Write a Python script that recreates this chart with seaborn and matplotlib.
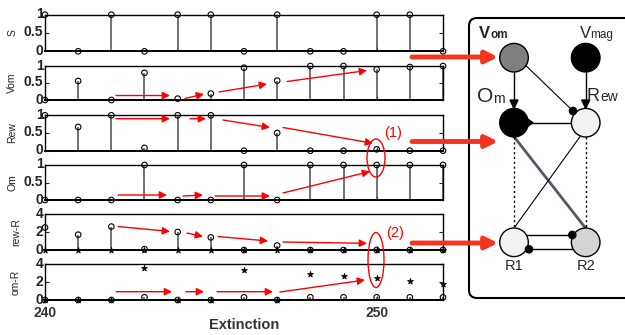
import numpy as np
import matplotlib
matplotlib.use("Agg")
import matplotlib.pyplot as plt
import seaborn as sns
from matplotlib.patches import Circle, Ellipse, FancyBboxPatch, Polygon

sns.set_style("ticks")
plt.rcParams['font.family'] = ['Liberation Sans', 'DejaVu Sans']

ext = list(range(240, 253))
s_vals = [1, 0, 1, 0, 1, 1, 0, 1, 0, 0, 1, 1, 0]
vom_vals = [0, 0.56, 0, 0.8, 0.04, 0.19, 0.95, 0.57, 1.0, 1.0, 0.9, 0.97, 1.0]
rew_vals = [1, 0.67, 1, 0.08, 1, 1, 0, 0.5, 0, 0, 0.04, 0, 0]
om_vals = [0, 0, 0, 1, 0, 0, 1, 0, 1, 1, 1, 1, 1]
rewR_circ = [2.5, 1.7, 2.6, 0.1, 2.0, 1.4, 0, 0.5, 0, 0, 0, 0, 0]
rewR_star = [0, 0, 0, 0, 0, 0, 0, 0, 0, 0, 0, 0, 0]
omR_circ = [0, 0, 0, 0.3, 0, 0, 0.3, 0, 0.3, 0.3, 0.3, 0.3, 0.3]
omR_star = [0, 0, 0, 3.6, 0, 0, 3.3, 0, 2.9, 2.7, 2.5, 2.1, 1.8]

panel_names = ['S', 'Vom', 'Rew', 'Om', 'rew-R', 'om-R']
panel_circ = [s_vals, vom_vals, rew_vals, om_vals, rewR_circ, omR_circ]
panel_star = [None, None, None, None, rewR_star, omR_star]
panel_top = [1, 1, 1, 1, 4, 4]
panel_ticklabels = [['0', '0.5', '1']] * 4 + [['0', '2', '4']] * 2
x_ticks = [240, 250]

W, H = 625, 335
fig = plt.figure(figsize=(6.25, 3.35), dpi=100)

# overlay in pixel coordinates for diagram, annotations and labels
ov = fig.add_axes([0, 0, 1, 1], zorder=10)
ov.set_xlim(0, W)
ov.set_ylim(H, 0)
ov.axis('off')

# panel positions in pixels (top, bottom)
rows = [(14.7, 51.3), (66, 100), (115.3, 150.7), (165, 200), (214, 250), (264, 300)]
label_x = [12.7, 12, 12, 12, 16, 16]
x0, x1 = 45, 443

axes = []
for i, (t, b) in enumerate(rows):
    ax = fig.add_axes([x0 / W, 1 - b / H, (x1 - x0) / W, (b - t) / H])
    top = panel_top[i]
    y = panel_circ[i]
    ax.vlines(ext, 0, y, color='#4a4a4a', lw=1.1, zorder=2)
    sns.scatterplot(x=ext, y=y, ax=ax, marker='o', s=16, facecolor='none',
                    edgecolor='black', linewidth=0.8, clip_on=False, zorder=4)
    if panel_star[i] is not None:
        sns.scatterplot(x=ext, y=panel_star[i], ax=ax, marker='*', s=20,
                        color='black', edgecolor='black', linewidth=0.5,
                        clip_on=False, zorder=5)
    ax.set_xlim(240, 252)
    ax.set_ylim(0, top)
    ticks = [0, top / 2, top]
    ax.set_xticks(x_ticks)
    ax.set_yticks(ticks)
    ax.set_xticklabels([])
    ax.set_yticklabels([])
    ax.tick_params(direction='in', right=True, length=3, width=0.8, pad=1)
    for sp in ax.spines.values():
        sp.set_linewidth(1.0)
        sp.set_color('black')
    ax.spines['bottom'].set_linewidth(1.4)
    ax.set_ylabel('')
    ax.set_xlabel('')
    ax.set_facecolor('none')
    # tick labels, placed by the panel's own data scale
    for v, lab in zip(ticks, panel_ticklabels[i]):
        py = b - (b - t) * v / top
        ov.text(x0 - 1.5, py - 0.5, lab, ha='right', va='center', fontsize=10,
                fontweight='bold', color='#222222')
    ov.text(label_x[i], (t + b) / 2, panel_names[i], rotation=90,
            fontsize=7.5, color='#222222', ha='center', va='center')
    axes.append(ax)

for v in x_ticks:
    px = x0 + (x1 - x0) * (v - 240) / 12
    ov.text(px, 306, str(v), ha='center', va='top', fontsize=10,
            fontweight='bold', color='#333333')

ov.text(244, 325, 'Extinction', fontsize=10.5, fontweight='bold',
        color='#333333', ha='center', va='center')

red = '#ff0000'


def small_arrow(p, q):
    ov.annotate('', xy=q, xytext=p,
                arrowprops=dict(arrowstyle='-|>', color=red, lw=1.0,
                                mutation_scale=11, shrinkA=0, shrinkB=0))


small_arrows = [
    ((116, 95.5), (170, 95.5)), ((185, 98.5), (204, 94)), ((219, 92), (267, 84)),
    ((287, 81.5), (367, 70.5)),
    ((116, 118.7), (170, 118.7)), ((190, 118.7), (206, 118.7)), ((223, 120), (270, 127.5)),
    ((283, 127.5), (373, 143.3)),
    ((118, 195), (167, 195)), ((183, 196), (203, 195)), ((215, 196), (270, 196)),
    ((283, 193), (370, 171.5)),
    ((118, 226.5), (170, 231.5)), ((187, 233), (203, 236.5)), ((218, 236.5), (268, 241)),
    ((283, 242), (367, 243.3)),
    ((116, 291.7), (172, 291.7)), ((186, 291.7), (204, 291.7)), ((217, 291.7), (273, 291.7)),
    ((280, 292), (365, 280)),
]
for p, q in small_arrows:
    small_arrow(p, q)

ov.add_patch(Ellipse((376, 158), 18, 38, fill=False, ec=red, lw=1.0))
ov.add_patch(Ellipse((376, 260), 16, 55, fill=False, ec=red, lw=1.0))
ov.text(393, 133, '(1)', color=red, fontsize=10.5, ha='center', va='center')
ov.text(395, 233, '(2)', color=red, fontsize=10.5, ha='center', va='center')

# big arrows to the diagram
for yy in [57, 141.5, 243]:
    ov.annotate('', xy=(498, yy), xytext=(412, yy),
                arrowprops=dict(arrowstyle='-|>', color='#f5341f', lw=3.5,
                                mutation_scale=18, shrinkA=0, shrinkB=0))

# network diagram
ov.add_patch(FancyBboxPatch((469, 18), 180, 280,
                            boxstyle='round,pad=0,rounding_size=8',
                            fill=False, ec='black', lw=1.5, clip_on=False))

r = 14.3
nodes = {
    'Vom': ((514, 57.7), '#808080'),
    'Vmag': ((585.7, 57.7), 'black'),
    'Om': ((514, 122.7), 'black'),
    'Rew': ((585.7, 122.7), '#f2f2f2'),
    'R1': ((514, 242.3), '#f2f2f2'),
    'R2': ((585.7, 242.3), '#d4d4d4'),
}

# edges
ov.plot([514, 514], [72, 100], color='black', lw=1.0, zorder=2)
ov.plot([585.7, 585.7], [72, 100], color='black', lw=1.0, zorder=2)
ov.add_patch(Polygon([[510, 100], [518, 100], [514, 108.5]], closed=True, color='black', zorder=3))
ov.add_patch(Polygon([[581.7, 100], [589.7, 100], [585.7, 108.5]], closed=True, color='black', zorder=3))
ov.plot([526, 573], [65.7, 111], color='black', lw=0.8, zorder=2)
ov.add_patch(Circle((573, 111), 3.6, color='black', zorder=5))
ov.plot([528, 571.5], [122.7, 122.7], color='black', lw=1.0, zorder=2)
ov.add_patch(Polygon([[524, 116.5], [533, 122.7], [524, 129]], closed=True, color='black', zorder=4))
ov.plot([514, 585.7], [136.7, 228.3], color='#5c5462', lw=2.0, zorder=2)
ov.plot([580, 515], [136.7, 226.7], color='black', lw=0.8, zorder=2)
ov.plot([514, 514], [137, 228], color='black', lw=1.0, ls=(0, (1.5, 2)), zorder=2)
ov.plot([585.7, 585.7], [137, 228], color='black', lw=1.0, ls=(0, (1.5, 2)), zorder=2)
ov.plot([524, 572], [235, 235], color='black', lw=1.0, zorder=2)
ov.plot([529, 576], [249.3, 249.3], color='black', lw=1.0, zorder=2)
ov.add_patch(Circle((572.3, 235), 3.6, color='black', zorder=5))
ov.add_patch(Circle((529, 249.3), 3.6, color='black', zorder=5))

for name, ((cx, cy), col) in nodes.items():
    ov.add_patch(Circle((cx, cy), r, fc=col, ec='black', lw=1.0, zorder=3))

ov.text(479, 38, 'V', fontsize=12, fontweight='bold', ha='left', va='baseline')
ov.text(490.5, 38, 'om', fontsize=8.5, fontweight='bold', ha='left', va='baseline')
ov.text(580, 38, 'V', fontsize=12, ha='left', va='baseline')
ov.text(590.5, 38, 'mag', fontsize=8.5, ha='left', va='baseline')
ov.text(477, 102, 'O', fontsize=15, ha='left', va='baseline')
ov.text(493, 103, 'm', fontsize=10, ha='left', va='baseline')
ov.text(587, 101, 'R', fontsize=13, ha='left', va='baseline')
ov.text(600.5, 101, 'ew', fontsize=10, ha='left', va='baseline')
ov.text(514, 266.5, 'R1', fontsize=10.5, ha='center', va='center')
ov.text(585.7, 266.5, 'R2', fontsize=10.5, ha='center', va='center')

fig.savefig('out.png', dpi=100)
